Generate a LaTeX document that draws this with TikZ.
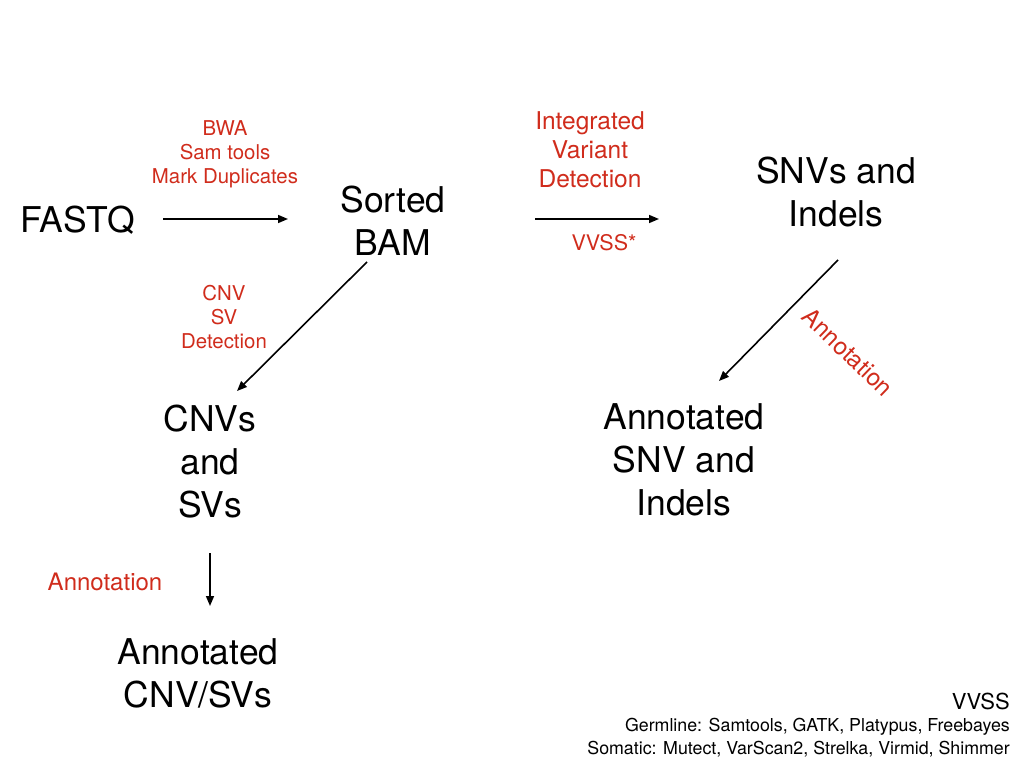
\documentclass[tikz,border=0pt]{standalone}
\usepackage{fontspec}
\setmainfont{TeX Gyre Heros}
\usetikzlibrary{arrows.meta}
\definecolor{lbl}{RGB}{208,44,28}
\begin{document}
\begin{tikzpicture}[x=1pt,y=-1pt,
  big/.style={font=\fontsize{35.5}{43}\selectfont,align=center,inner sep=0pt,text=black},
  lab/.style={font=\fontsize{20.4}{24}\selectfont,align=center,inner sep=0pt,text=lbl},
  labb/.style={font=\fontsize{24}{29}\selectfont,align=center,inner sep=0pt,text=lbl},
  conn/.style={line width=1.6pt,-{Triangle[length=10pt,width=8pt]}}]
\useasboundingbox (0,0) rectangle (1024,768);
% main nodes
\node[big] (fastq) at (78,220) {FASTQ};
\node[big] (bam) at (393,221) {Sorted\\BAM};
\node[big] (snv) at (836,192) {SNVs and\\Indels};
\node[big] (asnv) at (684,460) {Annotated\\SNV and\\Indels};
\node[big] (cnv) at (210,462) {CNVs\\and\\SVs};
\node[big] (acnv) at (198,673) {Annotated\\CNV/SVs};
% labels
\node[lab] (l1) at (225,154) {BWA\\Sam tools\\Mark Duplicates};
\node[labb,font=\fontsize{24.5}{29}\selectfont] (l2) at (590,150) {Integrated\\Variant\\Detection};
\node[lab,font=\fontsize{21.5}{24}\selectfont] (l3) at (604,243) {VVSS*};
\node[lab] (l4) at (224,317) {CNV\\SV\\Detection};
\node[labb,rotate=-44] (l5) at (848,352) {Annotation};
\node[labb] (l6) at (105,582) {Annotation};
% arrow end points
\coordinate (a1s) at (163,219); \coordinate (a1e) at (288,219);
\coordinate (a2s) at (535,219); \coordinate (a2e) at (659,219);
\coordinate (a3s) at (838,260); \coordinate (a3e) at (719,381);
\coordinate (a4s) at (367,262); \coordinate (a4e) at (237,391);
\coordinate (a5s) at (210,553); \coordinate (a5e) at (210,606);
\draw[conn] (a1s) -- (a1e);
\draw[conn] (a2s) -- (a2e);
\draw[conn] (a3s) -- (a3e);
\draw[conn] (a4s) -- (a4e);
\draw[conn] (a5s) -- (a5e);
% legend
\node[anchor=east,inner sep=0pt,font=\fontsize{22}{26}\selectfont] (leg1) at (1010,701) {VVSS};
\node[anchor=east,inner sep=0pt,font=\fontsize{17.8}{22}\selectfont] (leg2) at (1010,727) {Germline: Samtools, GATK, Platypus, Freebayes};
\node[anchor=east,inner sep=0pt,font=\fontsize{17.8}{22}\selectfont] (leg3) at (1010,749) {Somatic: Mutect, VarScan2, Strelka, Virmid, Shimmer};
\end{tikzpicture}
\end{document}
